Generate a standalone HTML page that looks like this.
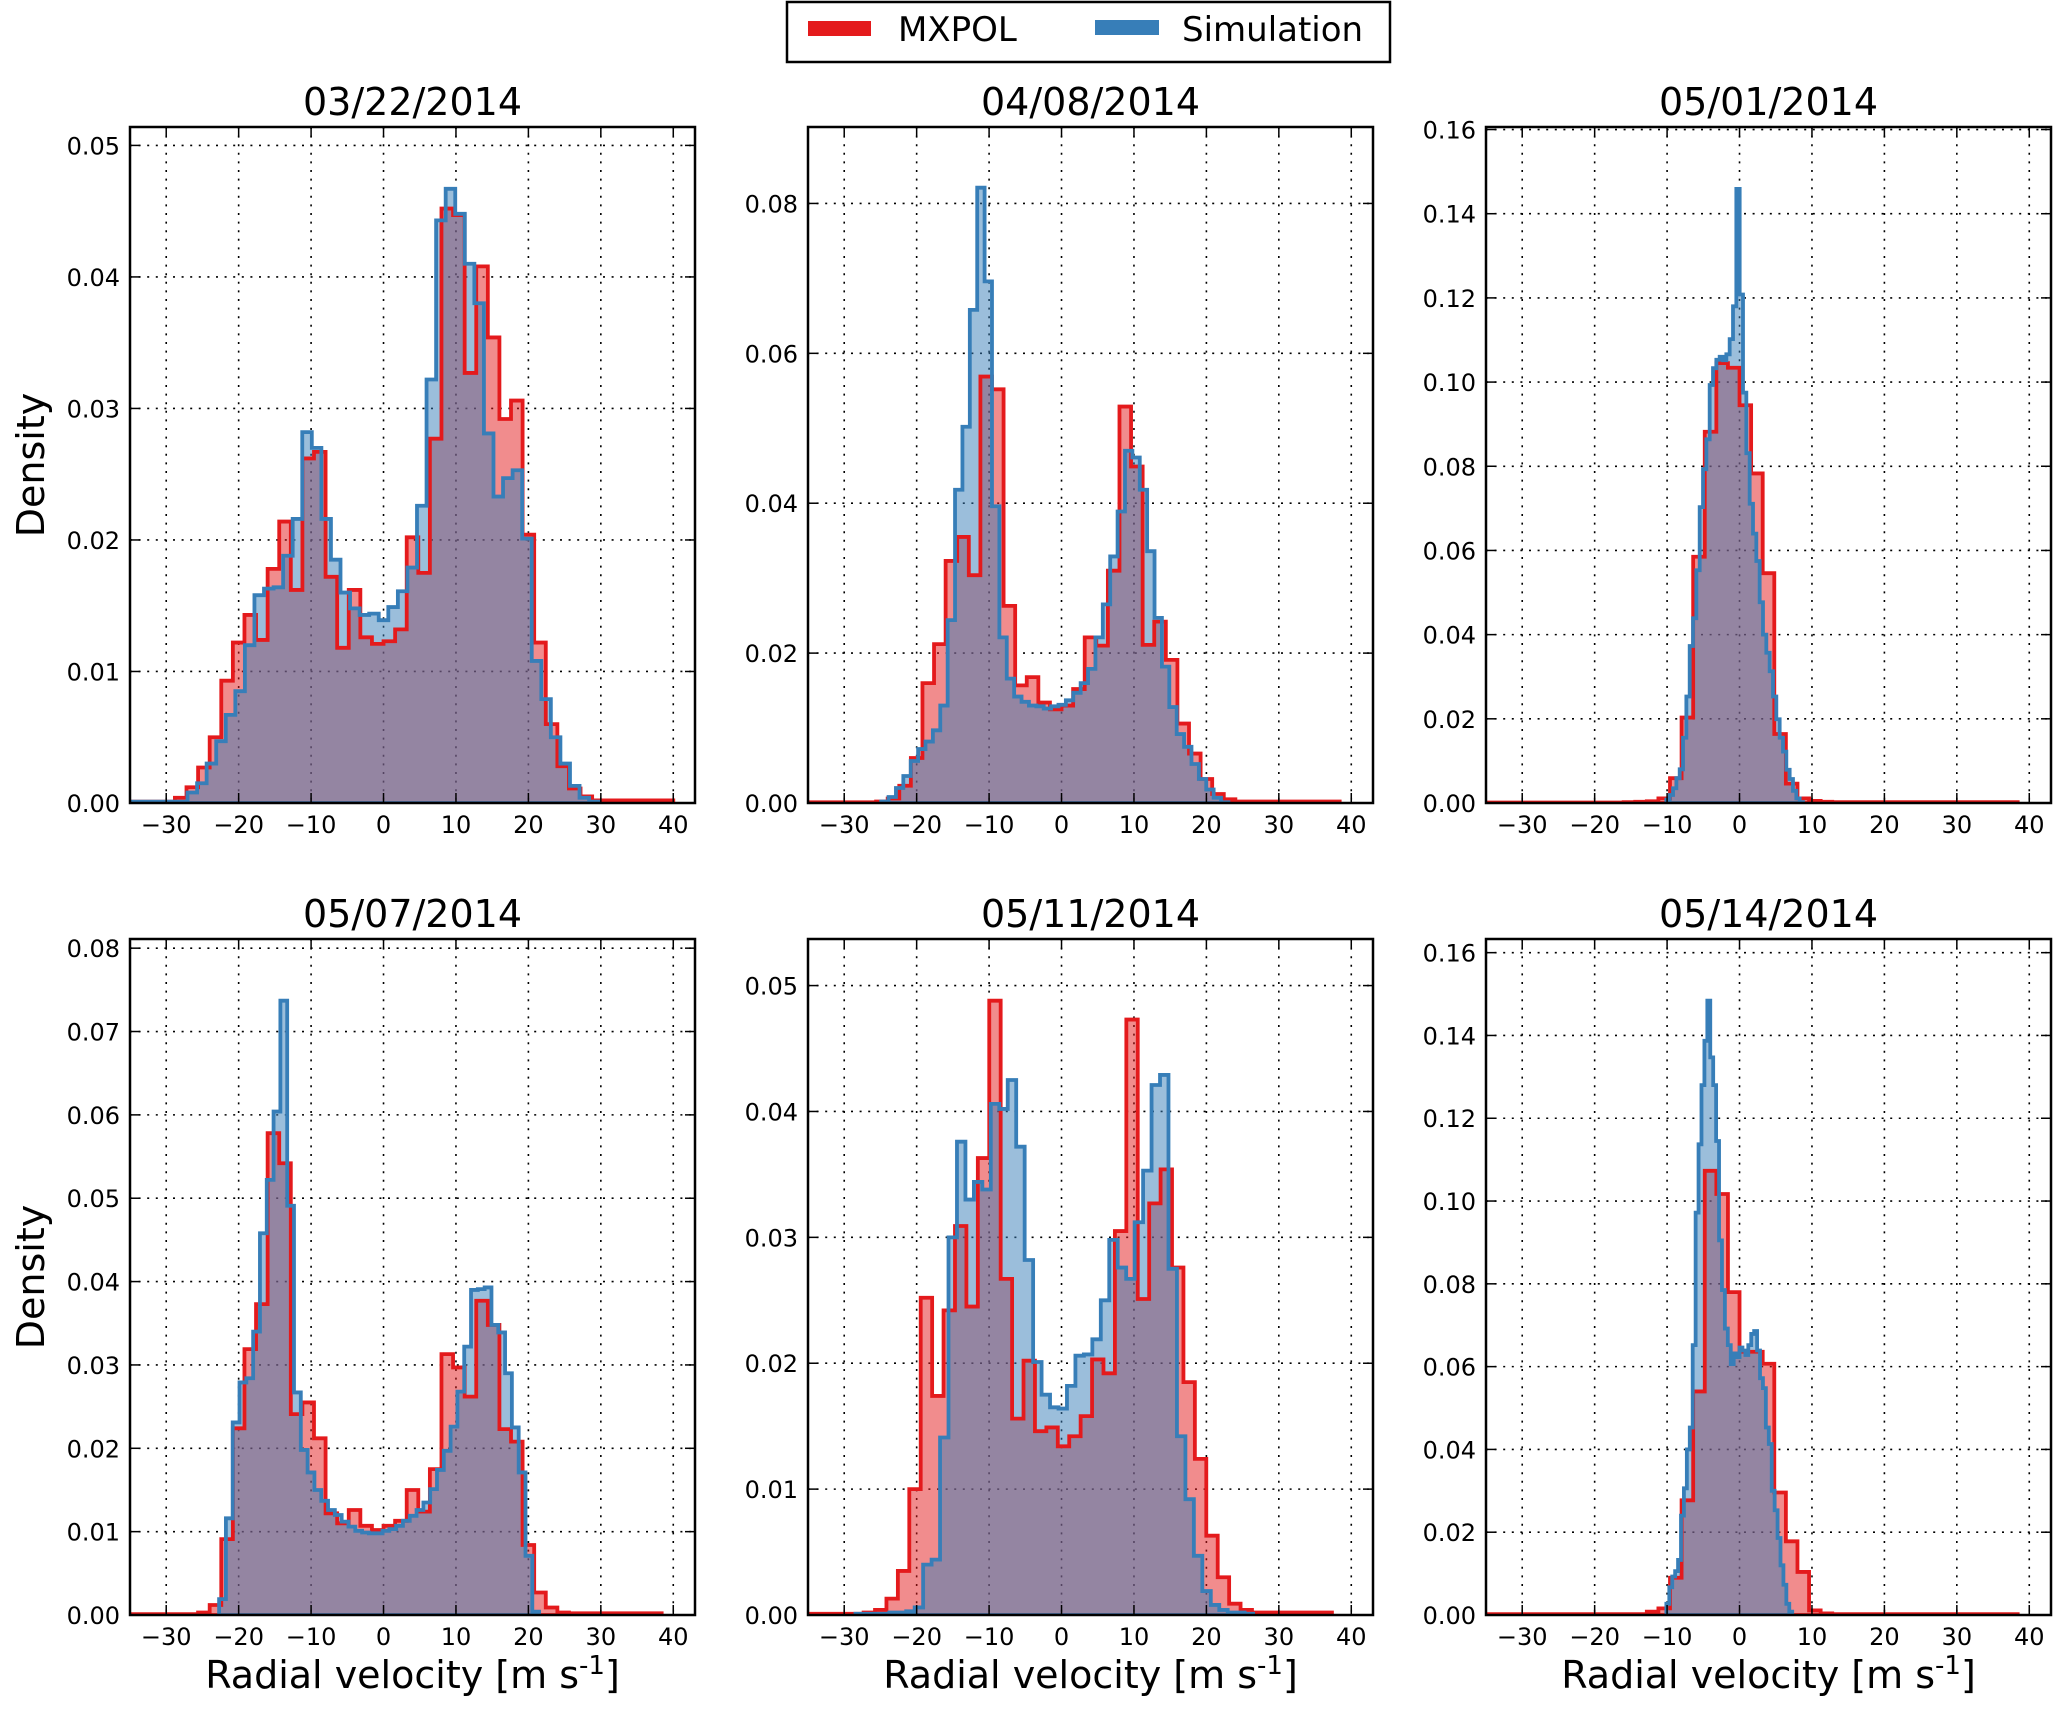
<!DOCTYPE html>
<html><head><meta charset="utf-8"><title>Radial velocity histograms</title>
<style>
html,body{margin:0;padding:0;background:#fff;}
svg{display:block;font-family:"DejaVu Sans","Liberation Sans",sans-serif;}
</style></head>
<body>
<svg id="fig" width="2067" height="1713" viewBox="0 0 2067 1713" xmlns="http://www.w3.org/2000/svg">
  <rect width="2067" height="1713" fill="#fff"/>
  <g id="legend">
    <rect x="787" y="2" width="603" height="60" fill="#fff" stroke="#000" stroke-width="2.5"/>
    <g>
      <rect x="808" y="21" width="63" height="15" fill="#e41a1c"/>
      <text x="898" y="41" font-size="34" fill="#000">MXPOL</text>
    </g>
    <g>
      <rect x="1095" y="20" width="64" height="15" fill="#377eb8"/>
      <text x="1182" y="41" font-size="34" fill="#000">Simulation</text>
    </g>
  </g>
</svg>
<script>
// ---- data (density values per histogram bin) ----
const panelTitles = ["03/22/2014","04/08/2014","05/01/2014","05/07/2014","05/11/2014","05/14/2014"];
const xTickLabels = [-30,-20,-10,0,10,20,30,40];
const yTicks1 = [0,0.01,0.02,0.03,0.04,0.05];
const yTicks2 = [0,0.02,0.04,0.06,0.08];
const yTicks3 = [0,0.02,0.04,0.06,0.08,0.10,0.12,0.14,0.16];
const yTicks4 = [0,0.01,0.02,0.03,0.04,0.05,0.06,0.07,0.08];
const yTicks5 = [0,0.01,0.02,0.03,0.04,0.05];
const yTicks6 = [0,0.02,0.04,0.06,0.08,0.10,0.12,0.14,0.16];
const yMax = [0.0514,0.0902,0.1606,0.0811,0.0537,0.1633];

// MXPOL (red) histograms: bin start, bin width, densities
const mxStart = [-35.2,-35.2,-35.2,-35.2,-35.21,-35.2];
const mxWidth = [1.6,1.6,1.6,1.6,1.577,1.6];
const mx1 = [0.0001,0.0001,0.0001,0.0001,0.0004,0.0012,0.0027,0.005,0.0093,0.0122,0.0143,0.0124,0.0178,0.0214,0.0162,0.0262,0.0267,0.0172,0.0118,0.0162,0.0126,0.0121,0.0123,0.0132,0.0202,0.0175,0.0277,0.0452,0.0447,0.0327,0.0408,0.0354,0.0292,0.0306,0.0204,0.0122,0.006,0.0028,0.0011,0.0005,0.0002,0.0002,0.0002,0.0002,0.0002,0.0002,0.0002];
const mx2 = [0.0001,0.0001,0.0001,0.0001,0.0001,0.0001,0.0002,0.0006,0.0023,0.006,0.016,0.0212,0.0323,0.0355,0.0304,0.0569,0.0552,0.0263,0.0157,0.0168,0.0134,0.0125,0.013,0.0152,0.0221,0.021,0.031,0.0529,0.0449,0.0211,0.0242,0.0191,0.0106,0.0066,0.0032,0.0012,0.0005,0.0002,0.0002,0.0002,0.0002,0.0002,0.0002,0.0002,0.0002,0.0002];
const mx3 = [0.0001,0.0001,0.0001,0.0001,0.0001,0.0001,0.0001,0.0001,0.0001,0.0001,0.0001,0.0001,0.0002,0.0003,0.0004,0.0011,0.0059,0.0203,0.0585,0.0882,0.1045,0.1034,0.0945,0.0783,0.0546,0.0164,0.0046,0.0011,0.0005,0.0003,0.0002,0.0002,0.0002,0.0002,0.0002,0.0002,0.0002,0.0002,0.0002,0.0002,0.0002,0.0002,0.0002,0.0002,0.0002,0.0002];
const mx4 = [0.0001,0.0001,0.0001,0.0001,0.0001,0.0001,0.0003,0.0012,0.0091,0.0224,0.0319,0.0373,0.0578,0.0542,0.0241,0.0255,0.0212,0.0122,0.011,0.0126,0.0107,0.0102,0.0107,0.0113,0.015,0.0124,0.0175,0.0313,0.0297,0.0262,0.0377,0.0348,0.0223,0.0208,0.0084,0.0027,0.0009,0.0003,0.0002,0.0002,0.0002,0.0002,0.0002,0.0002,0.0002,0.0002];
const mx5 = [0.0001,0.0001,0.0001,0.0001,0.0001,0.0002,0.0004,0.0013,0.0035,0.01,0.0252,0.0174,0.0242,0.0309,0.0245,0.0363,0.0488,0.0267,0.0156,0.0202,0.0146,0.0149,0.0134,0.0142,0.0158,0.0203,0.0192,0.0305,0.0473,0.0251,0.0327,0.0354,0.0276,0.0185,0.0124,0.0063,0.003,0.0009,0.0004,0.0002,0.0002,0.0002,0.0002,0.0002,0.0002,0.0002];
const mx6 = [0.0002,0.0002,0.0002,0.0002,0.0002,0.0002,0.0002,0.0002,0.0002,0.0002,0.0002,0.0002,0.0002,0.0002,0.0008,0.0016,0.009,0.0277,0.054,0.1073,0.1017,0.078,0.0636,0.0636,0.0607,0.0296,0.0178,0.0104,0.0011,0.0004,0.0002,0.0002,0.0002,0.0002,0.0002,0.0002,0.0002,0.0002,0.0002,0.0002,0.0002,0.0002,0.0002,0.0002,0.0002,0.0002];

// Simulation (blue) histograms
const simStart = [-34.98,-24.9,-10.1,-22.7,-28.45,-10.1];
const simWidth = [1.32,1.02,0.46,0.94,1.168,0.404];
const sim1 = [0.0001,0.0001,0.0001,0.0001,0.0001,0.0001,0.0008,0.0015,0.003,0.0047,0.0067,0.0085,0.012,0.0158,0.0163,0.0164,0.0188,0.0216,0.0282,0.027,0.0216,0.0185,0.016,0.0148,0.0143,0.0144,0.0139,0.0149,0.0161,0.0179,0.0226,0.0322,0.0443,0.0467,0.0448,0.041,0.038,0.0281,0.0233,0.0247,0.0253,0.0201,0.0108,0.0079,0.005,0.003,0.0013,0.0004,0.0001];
const sim2 = [0.0002,0.0008,0.002,0.0036,0.0056,0.0072,0.0082,0.0097,0.013,0.0244,0.0418,0.0502,0.0658,0.0821,0.0696,0.0396,0.0221,0.0166,0.0142,0.0135,0.013,0.0129,0.0126,0.0129,0.0131,0.0137,0.0147,0.016,0.0179,0.0221,0.0265,0.0329,0.0389,0.047,0.0461,0.0418,0.0336,0.0247,0.0182,0.0128,0.0092,0.0075,0.0052,0.0032,0.0018,0.0007,0.0001];
const sim3 = [0.0008,0.0019,0.0035,0.0059,0.008,0.0155,0.0253,0.0373,0.0439,0.0553,0.0703,0.0793,0.0864,0.0993,0.1033,0.1053,0.106,0.1052,0.1066,0.1102,0.118,0.1459,0.1208,0.0975,0.0831,0.0711,0.064,0.0575,0.0477,0.04,0.0357,0.0313,0.0253,0.0199,0.0155,0.0122,0.0079,0.0057,0.0029,0.0011,0.0002];
const sim4 = [0.0019,0.0116,0.0231,0.0279,0.0284,0.034,0.0458,0.0522,0.0604,0.0737,0.0491,0.0267,0.0198,0.0171,0.015,0.0137,0.0126,0.012,0.0112,0.0106,0.0101,0.0099,0.0098,0.0098,0.0101,0.0103,0.0107,0.0113,0.0119,0.0126,0.0135,0.0151,0.0174,0.0197,0.0226,0.0268,0.0322,0.039,0.0391,0.0393,0.0348,0.0339,0.029,0.0225,0.0171,0.0071,0.0004];
const sim5 = [0.0001,0.0001,0.0001,0.0001,0.0002,0.0002,0.0003,0.0006,0.004,0.0044,0.0141,0.03,0.0376,0.033,0.0344,0.0338,0.0406,0.0402,0.0425,0.0372,0.0282,0.0201,0.0175,0.0165,0.0164,0.0182,0.0206,0.0207,0.0219,0.025,0.0298,0.0276,0.0267,0.0312,0.0353,0.0421,0.0429,0.0275,0.0142,0.0092,0.0047,0.0019,0.0008,0.0004,0.0002,0.0002,0.0001];
const sim6 = [0.0027,0.0067,0.0093,0.0106,0.0133,0.024,0.0306,0.04,0.0453,0.0652,0.0972,0.1137,0.128,0.1387,0.1484,0.1347,0.128,0.1145,0.0905,0.0785,0.0692,0.0652,0.0606,0.0632,0.0623,0.0646,0.0639,0.0628,0.0652,0.0679,0.0686,0.0639,0.0572,0.0548,0.0453,0.0413,0.03,0.0253,0.0186,0.012,0.0073,0.0027,0.0008];

const mxSeries = [mx1,mx2,mx3,mx4,mx5,mx6];
const simSeries = [sim1,sim2,sim3,sim4,sim5,sim6];
const yTickSets = [yTicks1,yTicks2,yTicks3,yTicks4,yTicks5,yTicks6];

// ---- layout ----
const NS = "http://www.w3.org/2000/svg";
const svg = document.getElementById('fig');
const colLeft = [130,808,1486];
const rowTop = [127,939];
const AW = 565, AH = 676;
const XMIN = -35, XMAX = 43;

function mk(tag, attrs, parent){
  const e = document.createElementNS(NS, tag);
  for (const k in attrs) e.setAttribute(k, attrs[k]);
  parent.appendChild(e);
  return e;
}
function fmt(v, dec){ return v.toFixed(dec); }
function histPath(start, width, vals, sx, sy){
  let d = "M" + sx(start).toFixed(2) + "," + sy(0).toFixed(2);
  for (let i = 0; i < vals.length; i++){
    const x0 = sx(start + i*width), x1 = sx(start + (i+1)*width), y = sy(vals[i]);
    d += "L" + x0.toFixed(2) + "," + y.toFixed(2) + "L" + x1.toFixed(2) + "," + y.toFixed(2);
  }
  d += "L" + sx(start + vals.length*width).toFixed(2) + "," + sy(0).toFixed(2) + "Z";
  return d;
}

for (let p = 0; p < 6; p++){
  const L = colLeft[p % 3], T = rowTop[Math.floor(p / 3)];
  const ym = yMax[p];
  const sx = v => L + (v - XMIN) / (XMAX - XMIN) * AW;
  const sy = v => T + AH - v / ym * AH;
  const g = mk('g', {}, svg);
  
  

  const clipId = 'clip' + p;
  const cp = mk('clipPath', {id: clipId}, g);
  mk('rect', {x: L, y: T, width: AW, height: AH}, cp);

  // grid
  const grid = mk('g', {stroke: '#000', 'stroke-width': 1.6, 'stroke-dasharray': '2,6.6'}, g);
  
  
  xTickLabels.forEach(v => mk('line', {x1: sx(v), x2: sx(v), y1: T, y2: T+AH}, grid));
  yTickSets[p].forEach(v => mk('line', {x1: L, x2: L+AW, y1: sy(v), y2: sy(v)}, grid));

  const plot = mk('g', {'clip-path': 'url(#' + clipId + ')'}, g);
  const rf = mk('path', {d: histPath(mxStart[p], mxWidth[p], mxSeries[p], sx, sy), fill: '#e41a1c', 'fill-opacity': 0.5, stroke: 'none'}, plot);
  
  
  const bf = mk('path', {d: histPath(simStart[p], simWidth[p], simSeries[p], sx, sy), fill: '#377eb8', 'fill-opacity': 0.5, stroke: 'none'}, plot);
  
  
  const rl = mk('path', {d: histPath(mxStart[p], mxWidth[p], mxSeries[p], sx, sy), fill: 'none', stroke: '#e41a1c', 'stroke-width': 3.8, 'stroke-linejoin': 'miter'}, plot);
  
  
  const bl = mk('path', {d: histPath(simStart[p], simWidth[p], simSeries[p], sx, sy), fill: 'none', stroke: '#377eb8', 'stroke-width': 3.8, 'stroke-linejoin': 'miter'}, plot);
  
  

  // ticks (inward, mirrored)
  const tk = mk('g', {stroke: '#000', 'stroke-width': 1.5}, g);
  xTickLabels.forEach(v => {
    mk('line', {x1: sx(v), x2: sx(v), y1: T+AH, y2: T+AH-10}, tk);
    mk('line', {x1: sx(v), x2: sx(v), y1: T, y2: T+10}, tk);
  });
  yTickSets[p].forEach(v => {
    mk('line', {x1: L, x2: L+10, y1: sy(v), y2: sy(v)}, tk);
    mk('line', {x1: L+AW, x2: L+AW-10, y1: sy(v), y2: sy(v)}, tk);
  });

  const fr = mk('rect', {x: L, y: T, width: AW, height: AH, fill: 'none', stroke: '#000', 'stroke-width': 2.5}, g);
  
  

  xTickLabels.forEach(v => {
    const t = mk('text', {x: sx(v), y: T+AH+30, 'font-size': 24, 'text-anchor': 'middle'}, g);
    
    
    t.textContent = v < 0 ? '\u2212' + Math.abs(v) : String(v);
  });
  yTickSets[p].forEach(v => {
    const t = mk('text', {x: L-10, y: sy(v)+9, 'font-size': 24, 'text-anchor': 'end'}, g);
    
    
    t.textContent = fmt(v, 2);
  });

  const tt = mk('text', {x: L+AW/2, y: T-12, 'font-size': 38, 'text-anchor': 'middle'}, g);
  
  
  tt.textContent = panelTitles[p];

  if (p % 3 === 0){
    const yl = mk('text', {x: 0, y: 0, 'font-size': 38, 'text-anchor': 'middle', transform: 'translate(44,' + (T+AH/2) + ') rotate(-90)'}, g);
    
    
    yl.textContent = 'Density';
  }
  if (p >= 3){
    const xl = mk('text', {x: L+AW/2, y: 1688, 'font-size': 38, 'text-anchor': 'middle'}, g);
    
    
    xl.appendChild(document.createTextNode('Radial velocity [m s'));
    const sup = mk('tspan', {dy: -14, 'font-size': 26}, xl);
    sup.textContent = '-1';
    const rest = mk('tspan', {dy: 14}, xl);
    rest.textContent = ']';
  }
}
</script>
</body></html>
